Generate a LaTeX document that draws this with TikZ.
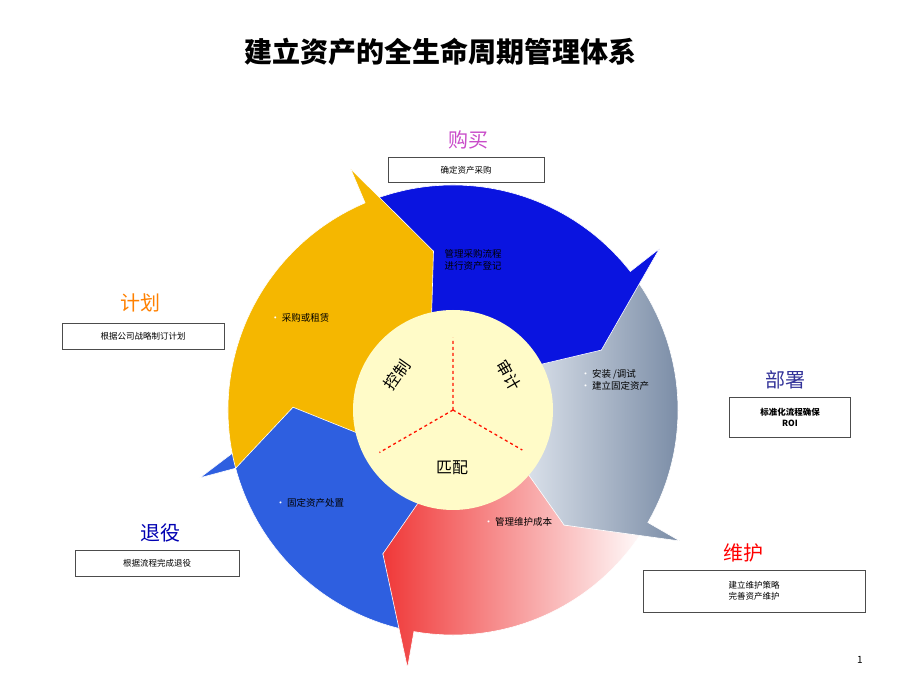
\documentclass[tikz,border=0pt]{standalone}
\usepackage{fontspec}
\setmainfont{Noto Sans CJK SC}
\usetikzlibrary{calc}
\definecolor{cyc yellow}{HTML}{F5B700}
\definecolor{cyc blue}{HTML}{0A14E0}
\definecolor{cyc steel}{HTML}{8EA6C8}
\definecolor{cyc red}{HTML}{F03838}
\definecolor{cyc sky}{HTML}{2E5FE0}
\definecolor{core}{HTML}{FFFBC8}
\tikzset{
  seg/.style={draw=white, line width=0.6pt},
  head/.style={font=\fontsize{20}{24}\selectfont},
  note/.style={draw=black!70, fill=white, font=\fontsize{8.5}{11}\selectfont, align=center, inner sep=2pt},
  inside/.style={font=\fontsize{9.5}{12}\selectfont, align=left},
  hub/.style={font=\fontsize{16}{18}\selectfont, inner sep=1pt}
}
\newcommand{\dotw}{{\color{white}\textbullet}\,}
% one arrow of the cycle: style, tail angle, head angle
\newcommand{\cycseg}[3]{%
  \path[#1] (#2:225) arc[start angle=#2, end angle=#3, radius=225]
    -- (#3:262) -- ({#3-16}:160) -- (#3:58)
    -- (#3:95) arc[start angle=#3, end angle=#2, radius=95]
    -- ({#2-16}:160) -- cycle;}
\begin{document}
\begin{tikzpicture}[x=1pt,y=1pt]
\useasboundingbox (0,0) rectangle (920,690);
\node[font=\bfseries\fontsize{28}{32}\selectfont] (title) at (440,638) {建立资产的全生命周期管理体系};
\begin{scope}[shift={(453,280)}]
\cycseg{seg, fill=cyc sky}{-100}{-165}
\cycseg{seg, left color=cyc red, right color=white}{-30}{-100}
\cycseg{seg, left color=white!80!cyc steel, right color=cyc steel!80!black}{38}{-30}
\cycseg{seg, fill=cyc blue}{113}{38}
\cycseg{seg, fill=cyc yellow}{195}{113}
\fill[core] (0,0) circle[radius=100];
\draw[red!85!orange, dashed, line width=1.3pt] (0,0) -- (90:72) (0,0) -- (210:85) (0,0) -- (330:80);
\node[hub, rotate=55] (ctrl) at (148:66) {控制};
\node[hub, rotate=-60] (audit) at (32:66) {审计};
\node[hub] (match) at (-1,-58) {匹配};
\end{scope}
\node[head, text=violet!60!magenta!70] (buy) at (468,550) {购买};
\node[note, minimum width=156pt, minimum height=25pt] (buybox) at (466,520) {确定资产采购};
\node[head, text=orange] (plan) at (140,387) {计划};
\node[note, minimum width=162pt, minimum height=26pt] (planbox) at (143,354) {根据公司战略制订计划};
\node[head, text=blue!50!black!80] (deploy) at (785,310) {部署};
\node[note, minimum width=121pt, minimum height=40pt, font=\bfseries\fontsize{8.5}{11}\selectfont] (deploybox) at (790,273) {标准化流程确保\\ROI};
\node[head, text=red] (maint) at (743,137) {维护};
\node[note, minimum width=222pt, minimum height=42pt] (maintbox) at (754,99) {建立维护策略\\完善资产维护};
\node[head, text=blue!70!black] (retire) at (160,157) {退役};
\node[note, minimum width=164pt, minimum height=26pt] (retirebox) at (157,127) {根据流程完成退役};
\node[inside] (buytxt) at (473,430) {管理采购流程\\进行资产登记};
\node[inside] (plantxt) at (300,372) {\dotw 采购或租赁};
\node[inside] (deploytxt) at (615,310) {\dotw 安装 /调试\\\dotw 建立固定资产};
\node[inside] (mainttxt) at (518,168) {\dotw 管理维护成本};
\node[inside] (retiretxt) at (310,187) {\dotw 固定资产处置};
\node[font=\fontsize{10}{12}\selectfont] (page) at (860,30) {1};
\end{tikzpicture}
\end{document}
